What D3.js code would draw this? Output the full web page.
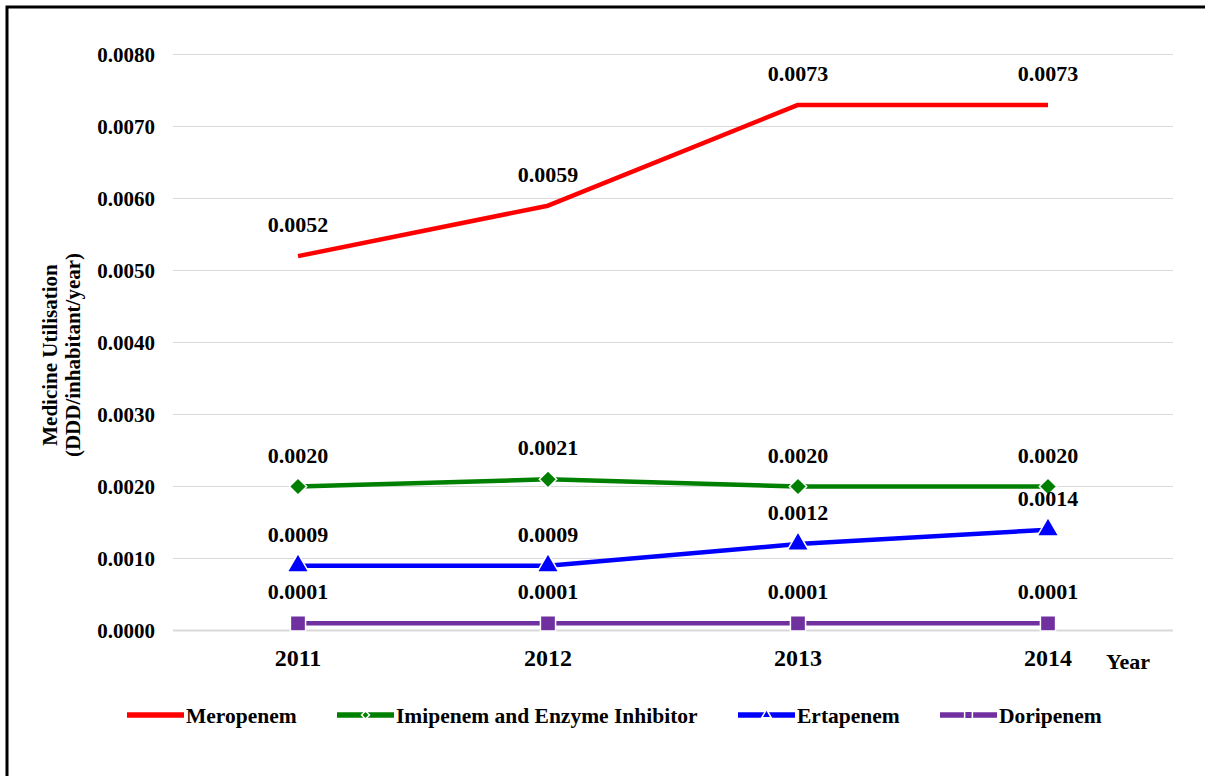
<!DOCTYPE html>
<html>
<head>
<meta charset="utf-8">
<script src="https://cdn.jsdelivr.net/npm/d3@7"></script>
<style>
  html, body { margin: 0; padding: 0; background: #fff; }
  svg { display: block; font-family: "Liberation Serif", "Times New Roman", serif; font-weight: bold; }
</style>
</head>
<body>
<svg id="chart" width="1205" height="776"></svg>
<script>
// Carbapenem utilisation by year (DDD per inhabitant per year)
const years = ["2011", "2012", "2013", "2014"];
const meropenem = [0.0052, 0.0059, 0.0073, 0.0073];
const imipenem = [0.0020, 0.0021, 0.0020, 0.0020];
const ertapenem = [0.0009, 0.0009, 0.0012, 0.0014];
const doripenem = [0.0001, 0.0001, 0.0001, 0.0001];
const seriesNames = ["Meropenem", "Imipenem and Enzyme Inhibitor", "Ertapenem", "Doripenem"];
const yTicks = [0, 0.001, 0.002, 0.003, 0.004, 0.005, 0.006, 0.007, 0.008];

const series = [
  { name: seriesNames[0], values: meropenem, color: "#ff0000", marker: null },
  { name: seriesNames[1], values: imipenem, color: "#008000", marker: d3.symbolDiamond2 },
  { name: seriesNames[2], values: ertapenem, color: "#0000ff", marker: d3.symbolTriangle },
  { name: seriesNames[3], values: doripenem, color: "#7030a0", marker: d3.symbolSquare }
];

const svg = d3.select("#chart");

// outer frame (runs past the right and bottom edge of the page)
svg.append("rect")
  .attr("x", 7).attr("y", 7)
  .attr("width", 1220).attr("height", 790)
  .attr("fill", "none").attr("stroke", "#000").attr("stroke-width", 3);

const plot = { left: 173, right: 1173, top: 54.5, bottom: 630.5 };

const x = d3.scaleBand().domain(years).range([plot.left, plot.right]).padding(0);
const cx = d => x(d) + x.bandwidth() / 2;
const y = d3.scaleLinear().domain([0, 0.008]).range([plot.bottom, plot.top]);

// horizontal gridlines
svg.append("g").selectAll("line")
  .data(yTicks)
  .join("line")
  .attr("x1", plot.left).attr("x2", plot.right)
  .attr("y1", d => y(d)).attr("y2", d => y(d))
  .attr("stroke", "#d9d9d9")
  .attr("stroke-width", d => d === 0 ? 2 : 1.2);

// y axis labels
const yAxis = svg.append("g")
  .attr("transform", `translate(${plot.left - 18},0)`)
  .call(d3.axisLeft(y).tickValues(yTicks).tickFormat(d3.format(".4f")).tickSize(0).tickPadding(0));
yAxis.select(".domain").remove();
yAxis.selectAll("text")
  .attr("font-family", "Liberation Serif, Times New Roman, serif")
  .attr("font-weight", "bold")
  .attr("font-size", 21)
  .attr("fill", "#000");

// x axis labels
const xAxis = svg.append("g")
  .attr("transform", `translate(0,${plot.bottom + 18})`)
  .call(d3.axisBottom(x).tickSize(0).tickPadding(0));
xAxis.select(".domain").remove();
xAxis.selectAll("text")
  .attr("font-family", "Liberation Serif, Times New Roman, serif")
  .attr("font-weight", "bold")
  .attr("font-size", 24)
  .attr("fill", "#000");

svg.append("text")
  .attr("x", 1128).attr("y", 669)
  .attr("text-anchor", "middle")
  .attr("font-size", 22)
  .text("Year");

// y axis title
const title = svg.append("text")
  .attr("transform", "translate(0,355) rotate(-90)")
  .attr("text-anchor", "middle")
  .attr("font-size", 21);
title.append("tspan").attr("x", 0).attr("y", 57).text("Medicine Utilisation");
title.append("tspan").attr("x", 0).attr("y", 80).text("(DDD/inhabitant/year)");

// lines, markers and value labels
const line = d3.line().x((v, i) => cx(years[i])).y(v => y(v));

series.forEach(s => {
  const g = svg.append("g");
  g.append("path")
    .attr("d", line(s.values))
    .attr("fill", "none")
    .attr("stroke", s.color)
    .attr("stroke-width", 4.5)
    .attr("stroke-linejoin", "round");
  if (s.marker) {
    const size = s.marker === d3.symbolSquare ? 230 : (s.marker === d3.symbolTriangle ? 200 : 190);
    g.selectAll("path.marker")
      .data(s.values)
      .join("path")
      .attr("class", "marker")
      .attr("transform", (v, i) => `translate(${cx(years[i])},${y(v)})`)
      .attr("d", d3.symbol().type(s.marker).size(size))
      .attr("fill", s.color)
      .attr("stroke", "#fff")
      .attr("stroke-width", 1.5);
  }
  g.selectAll("text")
    .data(s.values)
    .join("text")
    .attr("x", (v, i) => cx(years[i]))
    .attr("y", v => y(v) - 24)
    .attr("text-anchor", "middle")
    .attr("font-size", 22)
    .attr("fill", "#000")
    .text(v => d3.format(".4f")(v));
});

// legend
const legendItems = [
  { s: series[0], x: 127 },
  { s: series[1], x: 337 },
  { s: series[2], x: 738 },
  { s: series[3], x: 940 }
];
const ly = 715;
legendItems.forEach(({ s, x: lx }) => {
  const g = svg.append("g").attr("transform", `translate(${lx},${ly})`);
  g.append("line")
    .attr("x1", 0).attr("x2", 57)
    .attr("y1", 0).attr("y2", 0)
    .attr("stroke", s.color).attr("stroke-width", 5.5);
  if (s.marker) {
    const size = s.marker === d3.symbolSquare ? 60 : 40;
    g.append("path")
      .attr("transform", "translate(28.5,0)")
      .attr("d", d3.symbol().type(s.marker).size(size))
      .attr("fill", s.color)
      .attr("stroke", "#fff")
      .attr("stroke-width", 1.5);
  }
  g.append("text")
    .attr("x", 59).attr("y", 7.5)
    .attr("font-size", 21.5)
    .attr("fill", "#000")
    .text(s.name);
});
</script>
</body>
</html>
